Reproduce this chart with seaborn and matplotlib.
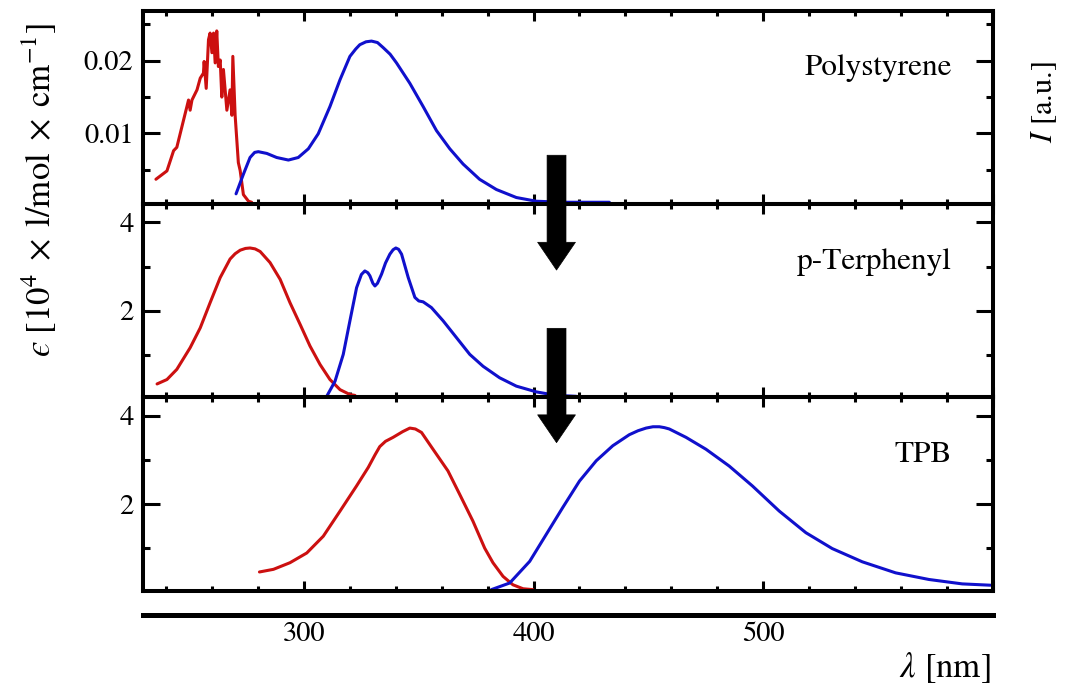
import numpy as np
import pandas as pd
import seaborn as sns
import matplotlib.pyplot as plt
from matplotlib.patches import ConnectionPatch
from matplotlib.ticker import MultipleLocator, FormatStrFormatter, FixedLocator

# wavelength axis
x_min, x_max = 230, 600
x_labels = [300, 400, 500]

# Polystyrene: absorption (red) and emission (blue)
ps_abs_nm = [235.5, 240.3, 243.2, 244.6, 247.5, 249.0, 249.7, 250.4, 251.2, 253.4, 254.8,
             256.2, 256.5, 257.4, 258.4, 259.1, 259.9, 260.6, 261.3, 262.0, 262.7, 263.5,
             264.2, 264.9, 266.4, 267.8, 268.6, 269.0, 270.0, 271.4, 272.2, 273.6, 275.8, 277.2]
ps_abs = [0.00371, 0.00486, 0.00764, 0.0081, 0.0118, 0.0137, 0.0146, 0.0132, 0.0146, 0.0160,
          0.0176, 0.0183, 0.0199, 0.0162, 0.0229, 0.0238, 0.0211, 0.0238, 0.0197, 0.0241,
          0.0192, 0.0201, 0.0150, 0.0188, 0.0132, 0.0160, 0.0125, 0.0206, 0.0125, 0.0060,
          0.0049, 0.0016, 0.0007, 0.00055]
ps_em_nm = [270.4, 273.6, 276.5, 278.5, 280.1, 283.8, 288.1, 293.2, 297.5, 301.9, 306.2, 311.3,
            315.7, 320.0, 322.5, 324.3, 327.0, 329.4, 332.0, 334.5, 337.5, 340.3, 346.1, 351.9,
            357.7, 363.5, 369.3, 376.5, 383.8, 392.5, 401.2, 412.7, 433.0]
ps_em = [0.00171, 0.0044, 0.0067, 0.0074, 0.0075, 0.00726, 0.0067, 0.00635, 0.0067, 0.0079,
         0.00996, 0.0137, 0.0174, 0.0206, 0.0216, 0.0222, 0.0226, 0.0227, 0.0225, 0.0218,
         0.0209, 0.0197, 0.0169, 0.0137, 0.0104, 0.0079, 0.0058, 0.0037, 0.0023, 0.0012,
         0.00069, 0.00055, 0.00055]

# p-Terphenyl
pt_abs_nm = [236.0, 240.3, 244.6, 250.4, 254.8, 259.1, 263.5, 267.8, 270.0, 272.2, 274.5,
             276.5, 278.7, 280.9, 285.2, 289.6, 293.9, 298.3, 302.6, 307.0, 311.3, 315.7,
             320.0, 322.2]
pt_abs = [0.34, 0.44, 0.67, 1.16, 1.61, 2.18, 2.75, 3.17, 3.29, 3.37, 3.41, 3.42, 3.40, 3.34,
          3.09, 2.71, 2.18, 1.69, 1.20, 0.78, 0.44, 0.21, 0.10, 0.08]
pt_em_nm = [309.9, 313.5, 317.1, 320.0, 322.9, 325.0, 326.5, 327.8, 328.7, 330.0, 330.9,
            332.0, 333.8, 335.5, 337.4, 338.8, 340.0, 341.2, 342.5, 345.4, 348.3, 350.0,
            351.9, 355.5, 360.6, 366.4, 372.2, 378.0, 385.2, 392.5, 401.2, 409.9, 418.6]
pt_em = [0.06, 0.40, 1.01, 1.77, 2.52, 2.82, 2.90, 2.86, 2.79, 2.62, 2.56, 2.62, 2.83, 3.08,
         3.28, 3.38, 3.42, 3.39, 3.28, 2.75, 2.30, 2.22, 2.20, 2.07, 1.77, 1.39, 1.01, 0.74,
         0.48, 0.29, 0.16, 0.08, 0.06]

# TPB
tpb_abs_nm = [280.6, 286.7, 293.9, 301.2, 308.4, 315.7, 322.9, 328.0, 331.0, 333.0, 335.5,
              338.8, 343.0, 346.1, 348.5, 351.2, 356.2, 362.7, 367.8, 373.6, 378.7, 382.3,
              386.7, 391.0, 395.4, 399.7]
tpb_abs = [0.46, 0.52, 0.67, 0.89, 1.27, 1.84, 2.41, 2.83, 3.12, 3.30, 3.42, 3.51, 3.64, 3.72,
           3.70, 3.62, 3.24, 2.75, 2.22, 1.61, 1.00, 0.67, 0.36, 0.17, 0.08, 0.06]
tpb_em_nm = [381.6, 389.6, 398.3, 405.5, 412.7, 420.0, 427.3, 434.5, 441.7, 445.5, 449.0,
             452.0, 454.8, 457.0, 459.1, 466.4, 475.1, 485.2, 495.3, 507.0, 518.6, 530.1,
             543.2, 557.7, 572.2, 586.7, 599.0]
tpb_em = [0.06, 0.21, 0.70, 1.31, 1.92, 2.52, 2.98, 3.32, 3.57, 3.66, 3.72, 3.75, 3.75, 3.73,
          3.70, 3.51, 3.24, 2.86, 2.41, 1.84, 1.35, 0.99, 0.69, 0.44, 0.29, 0.19, 0.16]

names = ["Polystyrene", "p-Terphenyl", "TPB"]

sns.set_style("ticks")
plt.rcParams['font.family'] = ['STIXGeneral', 'DejaVu Serif']
plt.rcParams['mathtext.fontset'] = 'stix'
for key in ['text.color', 'axes.labelcolor', 'xtick.color', 'ytick.color', 'axes.edgecolor']:
    plt.rcParams[key] = 'black'
plt.rcParams['lines.solid_joinstyle'] = 'round'

RED = '#cc1010'
BLUE = '#1010cc'

fig = plt.figure(figsize=(10.67, 6.88), dpi=100)
gs = fig.add_gridspec(3, 1, left=0.1343, right=0.9304, top=0.9847, bottom=0.1417, hspace=0)
axes = [fig.add_subplot(gs[i]) for i in range(3)]

series = [(ps_abs_nm, ps_abs, ps_em_nm, ps_em),
          (pt_abs_nm, pt_abs, pt_em_nm, pt_em),
          (tpb_abs_nm, tpb_abs, tpb_em_nm, tpb_em)]

for ax, (anm, a, enm, e), name in zip(axes, series, names):
    sns.lineplot(x=anm, y=a, ax=ax, color=RED, lw=2.2, sort=False, estimator=None, legend=False)
    sns.lineplot(x=enm, y=e, ax=ax, color=BLUE, lw=2.2, sort=False, estimator=None, legend=False)
    ax.set_xlim(x_min, x_max)
    ax.set_facecolor('none')
    for s in ax.spines.values():
        s.set_linewidth(2.9)
        s.set_color('black')
    ax.xaxis.set_major_locator(MultipleLocator(100))
    ax.xaxis.set_minor_locator(MultipleLocator(20))
    ax.tick_params(which='both', direction='in', top=True, right=True, bottom=True, left=True,
                   width=2.2, color='black')
    ax.tick_params(axis='x', which='major', length=7)
    ax.tick_params(axis='x', which='minor', length=3.6)
    ax.tick_params(axis='y', which='major', length=12, labelsize=20.5, pad=7)
    ax.tick_params(axis='y', which='minor', length=5)
    ax.tick_params(axis='x', labelbottom=False)
    ax.text(0.952, 0.70, name, transform=ax.transAxes, ha='right', va='center', fontsize=22.5)

axes[0].set_ylim(0.00033, 0.0269)
axes[0].yaxis.set_major_locator(MultipleLocator(0.01))
axes[0].yaxis.set_minor_locator(MultipleLocator(0.005))
axes[0].yaxis.set_major_formatter(FormatStrFormatter('%.2f'))
for ax in axes[1:]:
    ax.set_ylim(0.04, 4.42)
    ax.yaxis.set_major_locator(MultipleLocator(2))
    ax.yaxis.set_minor_locator(MultipleLocator(1))
    ax.yaxis.set_major_formatter(FormatStrFormatter('%d'))

# separate wavelength scale below the panels
sep = fig.add_axes([0.1343, 1 - 615 / 688, 0.9304 - 0.1343, 0.0005])
sep.set_xlim(x_min, x_max)
sep.set_facecolor('none')
for k in ['top', 'left', 'right']:
    sep.spines[k].set_visible(False)
sep.spines['bottom'].set_linewidth(3.6)
sep.spines['bottom'].set_color('black')
sep.set_yticks([])
sep.xaxis.set_major_locator(FixedLocator(x_labels))
sep.xaxis.set_minor_locator(FixedLocator([]))
sep.tick_params(axis='x', length=0, labelsize=20.5, pad=5)

# arrows between panels
arrow_style = 'simple,head_length=1.0,head_width=1.36,tail_width=0.68'
for (ax_a, ya), (ax_b, yb) in [((axes[0], 0.00701), (axes[1], 2.92)),
                                ((axes[1], 1.6), (axes[2], 3.39))]:
    cp = ConnectionPatch(xyA=(410, ya), coordsA=ax_a.transData,
                         xyB=(410, yb), coordsB=ax_b.transData,
                         arrowstyle=arrow_style, mutation_scale=20,
                         fc='black', ec='black', lw=0.5, zorder=5)
    fig.add_artist(cp)

fig.text(0.037, 1 - 190 / 688,
         '$\u03f5\\ [10^4\\;\\times\\;\\mathrm{l/mol}\\;\\times\\;\\mathrm{cm}^{-1}]$',
         rotation=90, ha='center', va='center', fontsize=25)
fig.text(0.979, 1 - 102 / 688, r'$I$ [a.u.]', rotation=90, ha='center', va='center', fontsize=22)
fig.text(0.928, 1 - 668 / 688, r'$\lambda$ [nm]', ha='right', va='center', fontsize=25)

fig.savefig('out.png', dpi=100)
